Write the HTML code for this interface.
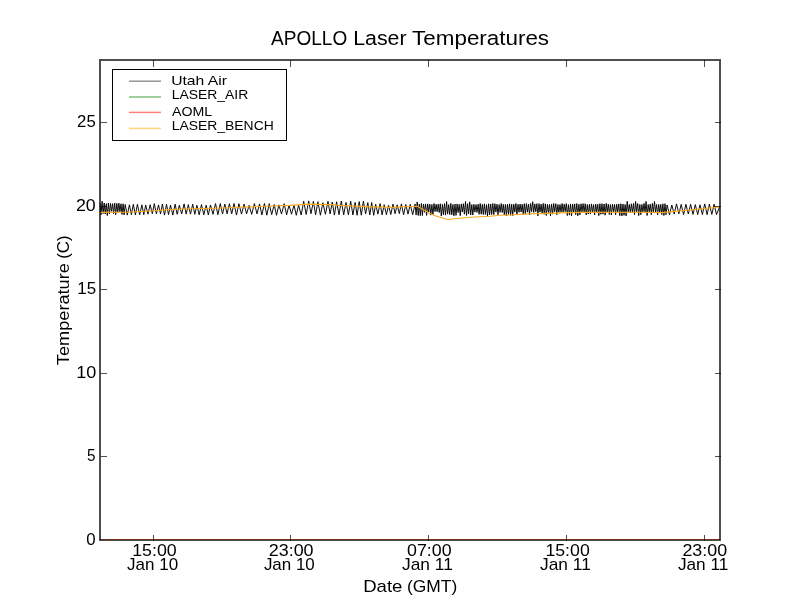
<!DOCTYPE html>
<html><head><meta charset="utf-8"><title>APOLLO Laser Temperatures</title>
<style>html,body{margin:0;padding:0;background:#fff;width:800px;height:600px;overflow:hidden}
svg{display:block;font-family:"Liberation Sans",sans-serif;will-change:transform}</style></head>
<body>
<svg width="800" height="600" viewBox="0 0 800 600" font-family='"Liberation Sans", sans-serif' fill="#000">
<polyline fill="none" stroke="#000" stroke-width="0.95" stroke-linejoin="miter" points="100.0,203.3 101.0,214.7 102.1,201.2 103.1,213.7 104.2,203.0 105.2,214.0 106.3,203.7 107.3,215.6 108.4,203.0 109.4,213.8 110.5,203.3 111.5,211.3 112.6,203.7 113.6,213.7 114.7,203.1 115.7,214.8 116.8,203.4 117.8,212.0 118.9,203.2 119.9,211.7 121.0,203.8 122.0,214.4 123.1,203.8 124.1,214.9 125.2,204.5 127.3,215.1 129.4,204.8 131.4,214.7 133.3,204.3 135.4,215.0 137.4,204.3 139.7,214.8 141.9,204.8 143.8,214.7 145.7,205.0 147.9,214.2 150.2,204.7 152.3,213.7 154.3,203.7 156.4,213.9 158.5,204.9 160.5,213.9 162.4,204.2 164.5,215.1 166.5,204.3 168.5,214.6 170.5,205.0 172.8,215.1 175.1,204.2 177.2,214.3 179.3,205.3 181.7,213.9 184.1,203.9 186.2,214.1 188.3,204.6 190.5,214.1 192.7,204.2 194.8,214.3 196.9,205.3 199.2,214.8 201.5,204.6 203.8,214.8 206.2,205.2 208.3,214.9 210.5,205.0 213.0,214.3 215.5,203.6 217.9,214.7 220.3,203.5 222.5,214.0 224.8,204.1 227.1,213.8 229.4,203.7 231.7,213.9 234.0,203.5 236.5,215.1 238.9,203.7 241.5,214.1 244.1,204.1 246.6,213.9 249.1,205.4 251.7,214.4 254.4,203.6 257.0,213.9 259.5,203.9 261.9,215.0 264.4,203.4 266.8,215.2 269.2,203.7 271.7,214.6 274.2,204.5 276.5,215.3 278.9,204.8 281.5,214.1 284.2,203.7 286.6,214.9 289.0,205.0 291.5,214.2 294.0,205.0 296.3,215.3 298.6,205.0 301.2,215.0 303.7,201.3 306.2,214.5 308.7,200.9 311.0,213.7 313.4,201.3 315.6,214.8 317.9,201.7 320.4,215.2 322.9,202.7 325.4,214.3 328.0,201.3 330.1,214.0 332.3,202.0 334.4,215.1 336.6,201.8 339.0,214.7 341.3,201.0 343.7,214.8 346.0,202.4 348.4,214.9 350.7,201.2 352.9,215.0 355.1,202.4 357.1,215.3 359.2,201.6 361.3,215.2 363.4,201.1 365.6,213.9 367.8,202.6 369.8,215.0 371.7,202.5 373.7,215.3 375.7,204.3 377.9,214.1 380.1,203.6 382.1,214.8 384.2,204.7 386.4,214.7 388.6,205.3 390.8,214.5 393.0,204.1 395.1,213.7 397.2,204.8 399.3,213.6 401.4,203.9 403.6,214.7 405.8,204.5 408.0,214.1 410.2,204.4 412.7,214.7 415.1,204.0 416.1,214.9 417.2,201.9 418.2,215.5 419.3,204.1 420.3,215.6 421.4,203.5 422.4,215.5 423.5,204.0 424.5,212.3 425.6,203.9 426.6,215.4 427.7,203.9 428.7,212.0 429.8,204.2 430.8,215.1 431.9,204.5 432.9,214.9 434.0,203.5 435.0,211.6 436.1,204.3 437.1,211.7 438.2,204.2 439.2,212.5 440.3,203.7 441.3,216.0 442.4,204.4 443.4,214.7 444.5,203.6 445.5,215.1 446.6,201.6 447.6,214.1 448.7,204.6 449.7,214.5 450.8,203.4 451.8,214.8 452.9,204.5 453.9,215.8 455.0,204.1 456.0,215.4 457.1,203.9 458.1,212.5 459.2,204.4 460.2,215.7 461.3,203.9 462.3,212.1 463.4,203.7 464.4,214.2 465.5,201.5 466.5,215.5 467.6,203.7 468.6,214.0 469.7,201.9 470.7,214.9 471.8,204.5 472.8,215.0 473.9,204.4 474.9,212.1 476.0,204.6 477.0,212.4 478.1,204.2 479.1,214.3 480.2,203.5 481.2,214.2 482.3,204.4 483.3,214.5 484.4,203.8 485.4,214.5 486.5,204.6 487.5,215.9 488.6,203.8 489.6,214.9 490.7,204.0 491.7,214.5 492.8,203.5 493.8,214.6 494.9,203.7 495.9,212.1 497.0,204.2 498.0,214.7 499.1,204.6 500.1,212.3 501.2,203.5 502.2,212.5 503.3,204.3 504.3,215.0 505.4,204.4 506.4,215.8 507.5,204.2 508.5,214.3 509.6,203.8 510.6,215.3 511.7,204.2 512.7,215.6 513.8,204.3 514.8,212.1 515.9,203.5 516.9,214.5 518.0,204.3 519.0,212.3 520.1,204.0 521.1,212.0 522.2,204.3 523.2,214.3 524.3,203.7 525.3,214.0 526.4,203.5 527.4,212.2 528.5,204.2 529.5,214.9 530.6,203.5 531.6,211.7 532.7,201.7 533.7,212.4 534.8,203.9 535.8,211.7 536.9,203.7 537.9,215.9 539.0,203.6 540.0,212.1 541.1,204.2 542.1,214.0 543.2,203.4 544.2,214.3 545.3,203.8 546.3,215.5 547.4,204.4 548.4,212.5 549.5,204.5 550.5,216.0 551.6,204.1 552.6,214.1 553.7,203.5 554.7,211.8 555.8,203.7 556.8,214.7 557.9,204.5 558.9,212.4 560.0,204.5 561.0,212.1 562.1,203.5 563.1,212.0 564.2,204.2 565.2,211.6 566.3,203.6 567.3,215.5 568.4,204.6 569.4,215.1 570.5,203.9 571.5,215.8 572.6,204.0 573.6,212.5 574.7,203.9 575.7,214.7 576.8,203.5 577.8,215.8 578.9,204.3 579.9,214.8 581.0,203.8 582.0,211.8 583.1,203.6 584.1,212.2 585.2,203.7 586.2,214.9 587.3,204.5 588.3,214.1 589.4,204.3 590.4,214.0 591.5,203.9 592.5,212.4 593.6,204.6 594.6,215.0 595.7,204.2 596.7,212.3 597.8,204.3 598.8,215.6 599.9,203.7 600.9,214.3 602.0,203.7 603.0,214.1 604.1,204.0 605.1,215.2 606.2,203.4 607.2,212.0 608.3,204.2 609.3,214.5 610.4,204.6 611.4,215.0 612.5,204.2 613.5,211.8 614.6,204.5 615.6,214.8 616.7,204.2 617.7,212.4 618.8,204.0 619.8,215.6 620.9,203.7 621.9,215.9 623.0,204.0 624.0,215.3 625.1,204.5 626.1,215.9 627.2,201.3 628.2,211.9 629.3,204.5 630.3,212.6 631.4,203.8 632.4,212.5 633.5,203.4 634.5,214.7 635.6,201.5 636.6,211.9 637.7,203.5 638.7,215.6 639.8,204.4 640.8,214.7 641.9,204.5 642.9,211.9 644.0,203.4 645.0,212.4 646.1,201.4 647.1,215.5 648.2,204.5 649.2,211.8 650.3,204.1 651.3,214.6 652.4,203.4 653.4,212.5 654.5,201.5 655.5,212.0 656.6,204.5 657.6,215.0 658.7,204.5 659.7,212.4 660.8,204.4 661.8,214.6 662.9,203.8 663.9,215.5 665.0,203.7 666.0,214.7 667.1,205.0 669.5,214.8 671.8,205.0 674.2,214.0 676.5,203.9 678.9,213.8 681.2,204.4 683.6,214.6 685.9,204.3 688.3,214.0 690.6,204.3 693.0,214.4 695.3,204.6 697.7,214.6 700.0,204.8 702.4,214.5 704.7,203.9 707.1,214.7 709.4,204.2 711.8,214.4 714.1,204.2 716.5,214.6 720.0,206.0"/>
<polyline fill="none" stroke="rgb(248,168,30)" stroke-width="1.1" points="100.0,212.4 126.0,212.3 150.0,211.0 165.0,209.9 190.0,208.8 215.0,208.3 240.0,207.3 265.0,206.2 290.0,205.4 308.0,204.1 330.0,204.6 340.0,205.4 365.0,206.6 390.0,207.4 410.0,206.5 417.5,206.3 430.0,213.4 436.0,216.1 447.5,219.5 460.0,218.3 470.0,217.3 490.0,216.3 500.0,215.3 530.0,213.9 580.0,212.4 640.0,212.3 662.0,212.6 720.0,207.0"/>
<rect x="100" y="539" width="620" height="1" fill="rgb(110,48,22)"/>
<rect x="99" y="59" width="622" height="2" fill="rgba(0,0,0,0.694)"/>
<rect x="99" y="540" width="622" height="1" fill="rgba(0,0,0,0.694)"/>
<rect x="99" y="61" width="2" height="479" fill="rgba(0,0,0,0.694)"/>
<rect x="719" y="61" width="2" height="479" fill="rgba(0,0,0,0.694)"/>
<rect x="101" y="456" width="6" height="1" fill="rgba(0,0,0,0.69)"/>
<rect x="715" y="456" width="6" height="1" fill="rgba(0,0,0,0.69)"/>
<rect x="101" y="373" width="6" height="1" fill="rgba(0,0,0,0.69)"/>
<rect x="715" y="373" width="6" height="1" fill="rgba(0,0,0,0.69)"/>
<rect x="101" y="289" width="6" height="1" fill="rgba(0,0,0,0.69)"/>
<rect x="715" y="289" width="6" height="1" fill="rgba(0,0,0,0.69)"/>
<rect x="101" y="206" width="6" height="1" fill="rgba(0,0,0,0.69)"/>
<rect x="715" y="206" width="6" height="1" fill="rgba(0,0,0,0.69)"/>
<rect x="101" y="122" width="6" height="1" fill="rgba(0,0,0,0.69)"/>
<rect x="715" y="122" width="6" height="1" fill="rgba(0,0,0,0.69)"/>
<rect x="153" y="60" width="1" height="7" fill="rgba(0,0,0,0.69)"/>
<rect x="153" y="535" width="1" height="6" fill="rgba(0,0,0,0.69)"/>
<rect x="290" y="60" width="1" height="7" fill="rgba(0,0,0,0.69)"/>
<rect x="290" y="535" width="1" height="6" fill="rgba(0,0,0,0.69)"/>
<rect x="428" y="60" width="1" height="7" fill="rgba(0,0,0,0.69)"/>
<rect x="428" y="535" width="1" height="6" fill="rgba(0,0,0,0.69)"/>
<rect x="566" y="60" width="1" height="7" fill="rgba(0,0,0,0.69)"/>
<rect x="566" y="535" width="1" height="6" fill="rgba(0,0,0,0.69)"/>
<rect x="704" y="60" width="1" height="7" fill="rgba(0,0,0,0.69)"/>
<rect x="704" y="535" width="1" height="6" fill="rgba(0,0,0,0.69)"/>
<rect x="112.5" y="69.5" width="174" height="71" fill="#fff" stroke="#000" stroke-width="1"/>
<line x1="129" x2="161" y1="81.2" y2="81.2" stroke="rgb(0,0,0)" stroke-opacity="0.42" stroke-width="1.5"/>
<line x1="129" x2="161" y1="97.0" y2="97.0" stroke="rgb(0,128,0)" stroke-opacity="0.50" stroke-width="1.5"/>
<line x1="129" x2="161" y1="112.4" y2="112.4" stroke="rgb(255,0,0)" stroke-opacity="0.50" stroke-width="1.5"/>
<line x1="129" x2="161" y1="128.4" y2="128.4" stroke="rgb(255,165,0)" stroke-opacity="0.50" stroke-width="1.5"/>
<text x="271.11" y="44.80" font-size="20.10" textLength="76.10" lengthAdjust="spacingAndGlyphs">APOLLO</text>
<text x="353.17" y="44.80" font-size="20.10" textLength="53.37" lengthAdjust="spacingAndGlyphs">Laser</text>
<text x="412.13" y="44.80" font-size="20.10" textLength="136.96" lengthAdjust="spacingAndGlyphs">Temperatures</text>
<text x="77.11" y="127.00" font-size="17.00" textLength="18.61" lengthAdjust="spacingAndGlyphs">25</text>
<text x="75.91" y="211.00" font-size="17.00" textLength="19.82" lengthAdjust="spacingAndGlyphs">20</text>
<text x="77.22" y="294.00" font-size="17.00" textLength="18.85" lengthAdjust="spacingAndGlyphs">15</text>
<text x="76.27" y="378.00" font-size="17.00" textLength="20.07" lengthAdjust="spacingAndGlyphs">10</text>
<text x="87.05" y="461.00" font-size="17.00" textLength="8.54" lengthAdjust="spacingAndGlyphs">5</text>
<text x="86.32" y="545.00" font-size="17.00" textLength="9.38" lengthAdjust="spacingAndGlyphs">0</text>
<text x="132.20" y="556.00" font-size="17.00" textLength="44.50" lengthAdjust="spacingAndGlyphs">15:00</text>
<text x="268.81" y="556.00" font-size="17.00" textLength="44.78" lengthAdjust="spacingAndGlyphs">23:00</text>
<text x="407.07" y="556.00" font-size="17.00" textLength="44.53" lengthAdjust="spacingAndGlyphs">07:00</text>
<text x="545.45" y="556.00" font-size="17.00" textLength="44.29" lengthAdjust="spacingAndGlyphs">15:00</text>
<text x="682.42" y="556.00" font-size="17.00" textLength="44.68" lengthAdjust="spacingAndGlyphs">23:00</text>
<text x="127.07" y="570.00" font-size="17.00" textLength="51.11" lengthAdjust="spacingAndGlyphs">Jan 10</text>
<text x="263.89" y="570.00" font-size="17.00" textLength="50.92" lengthAdjust="spacingAndGlyphs">Jan 10</text>
<text x="402.02" y="570.00" font-size="17.00" textLength="50.80" lengthAdjust="spacingAndGlyphs">Jan 11</text>
<text x="540.02" y="570.00" font-size="17.00" textLength="50.80" lengthAdjust="spacingAndGlyphs">Jan 11</text>
<text x="677.90" y="570.00" font-size="17.00" textLength="50.52" lengthAdjust="spacingAndGlyphs">Jan 11</text>
<text x="363.19" y="592.00" font-size="17.00" textLength="39.26" lengthAdjust="spacingAndGlyphs">Date</text>
<text x="406.94" y="592.00" font-size="17.00" textLength="50.25" lengthAdjust="spacingAndGlyphs">(GMT)</text>
<text x="0" y="0" font-size="17.00" textLength="102.05" lengthAdjust="spacingAndGlyphs" transform="translate(69.00,365.15) rotate(-90)">Temperature</text>
<text x="0" y="0" font-size="17.00" textLength="23.51" lengthAdjust="spacingAndGlyphs" transform="translate(69.00,258.85) rotate(-90)">(C)</text>
<text x="171.16" y="85.00" font-size="13.60" textLength="55.80" lengthAdjust="spacingAndGlyphs">Utah Air</text>
<text x="171.68" y="99.00" font-size="13.60" textLength="76.53" lengthAdjust="spacingAndGlyphs">LASER_AIR</text>
<text x="172.08" y="116.00" font-size="13.60" textLength="40.17" lengthAdjust="spacingAndGlyphs">AOML</text>
<text x="171.68" y="130.00" font-size="13.60" textLength="102.10" lengthAdjust="spacingAndGlyphs">LASER_BENCH</text>
</svg>
</body></html>
